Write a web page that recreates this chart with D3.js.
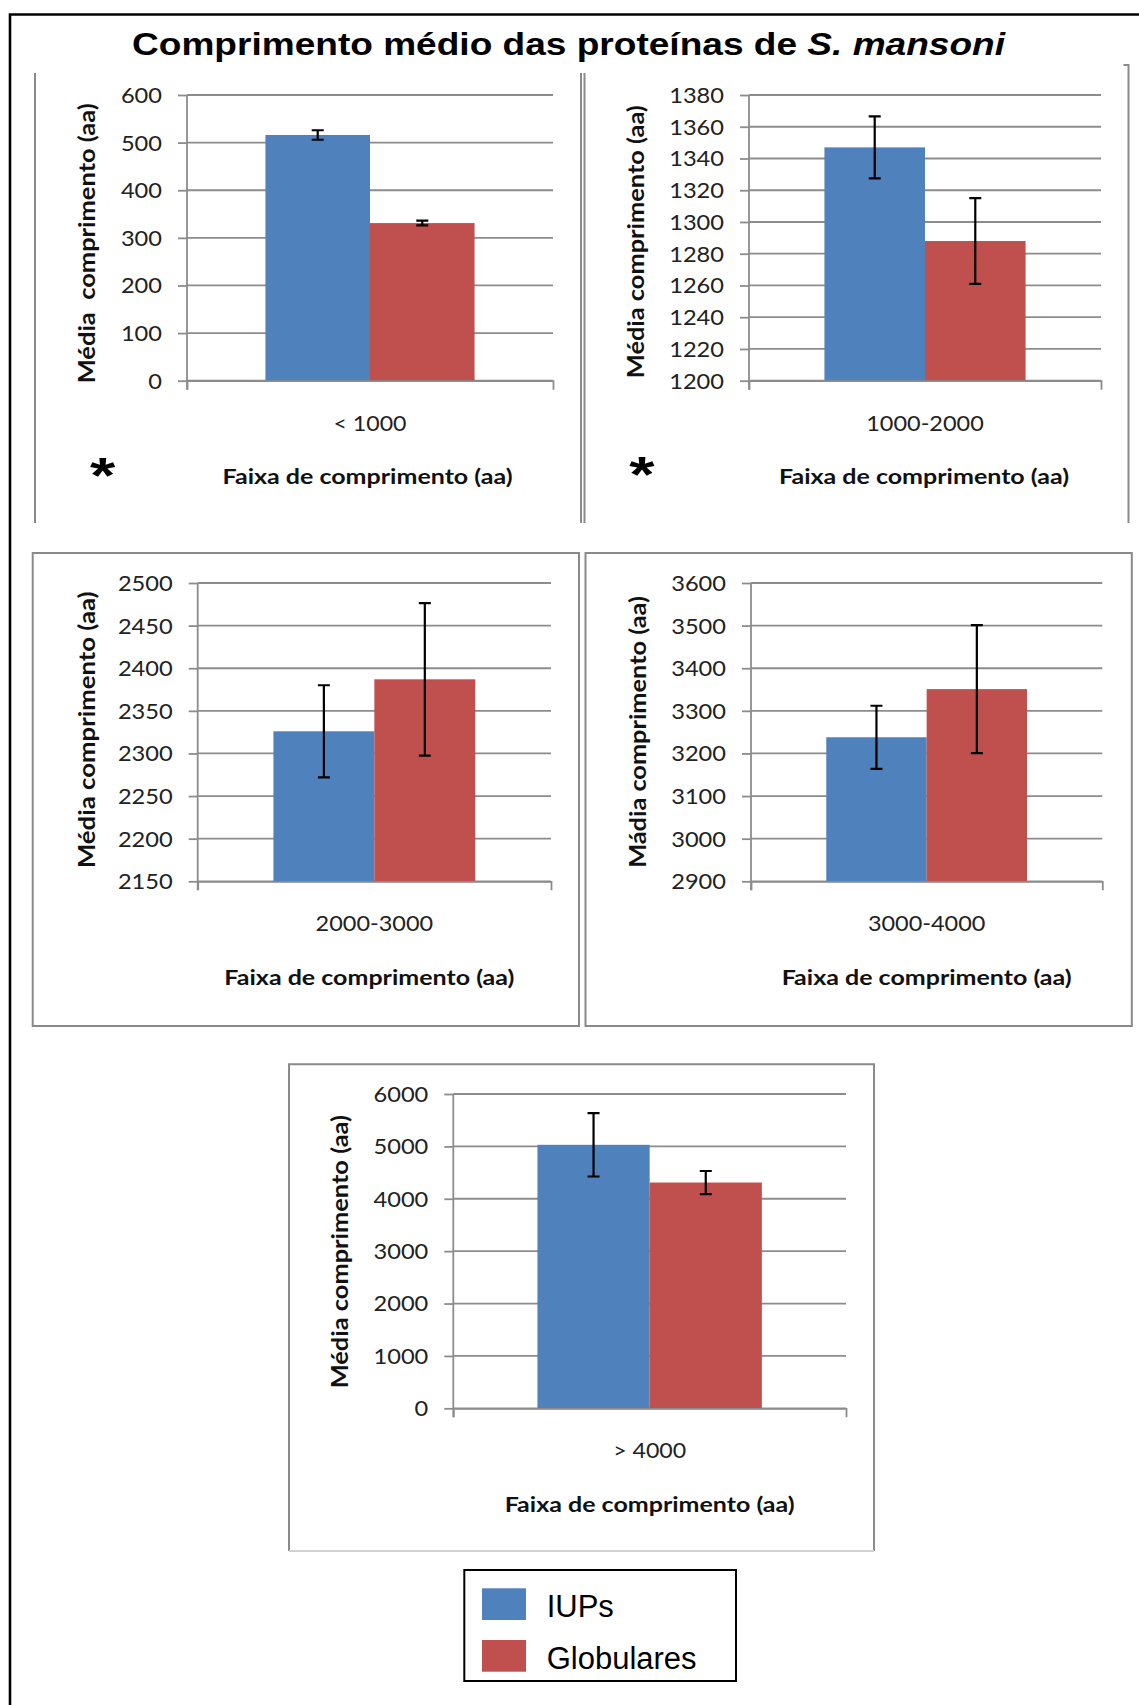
<!DOCTYPE html>
<html>
<head>
<meta charset="utf-8">
<script src="https://cdn.jsdelivr.net/npm/d3@7"></script>
<style>
  body { margin: 0; background: #fff; }
  svg { display: block; }
</style>
</head>
<body>
<svg id="fig" width="1139" height="1705"></svg>
<script>
// ---- data ----
const categories = ["< 1000", "1000-2000", "2000-3000", "3000-4000", "> 4000"];
const seriesNames = ["IUPs", "Globulares"];
const iupMeans = [516, 1347, 2326, 3238, 5030];
const iupErrors = [10, 19.5, 54, 74, 605];
const globularMeans = [331, 1288, 2387, 3351, 4310];
const globularErrors = [5, 27, 89.5, 150, 220];
const yDomains = [[0, 600], [1200, 1380], [2150, 2500], [2900, 3600], [0, 6000]];
const yTickSteps = [100, 20, 50, 100, 1000];
const yTitles = ["Média  comprimento (aa)", "Média comprimento (aa)", "Média comprimento (aa)",
                 "Mádia comprimento (aa)", "Média comprimento (aa)"];
const xTitle = "Faixa de comprimento (aa)";
const significant = [true, true, false, false, false];
const titleMain = "Comprimento médio das proteínas de ";
const titleSpecies = "S. mansoni";

// ---- style ----
const seriesColors = ["#4F81BD", "#C0504D"];
const gridColor = "#8c8c8c";
const frameColor = "#8a8a8a";
const chartFont = "Lato, 'Open Sans', sans-serif";
const docFont = "'Liberation Sans', Arial, sans-serif";

// plot areas of the five small charts
const panels = [
  { x0: 187,   x1: 553,    y0: 95,   y1: 380.7,  yTitleX: 87,   yTitleY: 243.3,  yTitleLen: 280,   xTitleDx: -2.5, star: [102.7, 465] },
  { x0: 749,   x1: 1101,   y0: 95,   y1: 380.7,  yTitleX: 636,  yTitleY: 241.7,  yTitleLen: 273,   xTitleDx: -1,   star: [642, 464] },
  { x0: 197.7, x1: 551,    y0: 583,  y1: 881.3,  yTitleX: 86.7, yTitleY: 729.7,  yTitleLen: 276.7, xTitleDx: -5 },
  { x0: 751,   x1: 1102.3, y0: 583,  y1: 881.3,  yTitleX: 638,  yTitleY: 732,    yTitleLen: 271.7, xTitleDx: 0 },
  { x0: 453.3, x1: 846,    y0: 1094, y1: 1408.3, yTitleX: 340,  yTitleY: 1251.7, yTitleLen: 273.3, xTitleDx: 0 }
];

const svg = d3.select("#fig");
svg.append("rect").attr("width", 1139).attr("height", 1705).attr("fill", "#fff");

// stretch a text horizontally so that it spans the given width
function fitX(sel, x, y, width) {
  const w = sel.node().getBBox().width;
  sel.attr("transform", `translate(${x},${y}) scale(${width / w},1)`);
}

// ---- page frame ----
svg.append("path").attr("d", "M10,1705V14.5H1139")
  .attr("fill", "none").attr("stroke", "#000").attr("stroke-width", 2.6);

// ---- title ----
const title = svg.append("text")
  .attr("font-family", docFont).attr("font-weight", "bold")
  .attr("font-size", 31).attr("fill", "#000");
title.append("tspan").text(titleMain);
title.append("tspan").attr("font-style", "italic").text(titleSpecies);
fitX(title, 132, 55, 875);

// ---- chart frames ----
const frames = svg.append("g").attr("fill", "none").attr("stroke", frameColor).attr("stroke-width", 2);
frames.append("path").attr("d", "M35,73V523");
frames.append("path").attr("d", "M581,73V523M584.5,73V523");
frames.append("path").attr("d", "M1123.5,65H1128.5V523");
frames.append("rect").attr("x", 32.7).attr("y", 553).attr("width", 546.3).attr("height", 473);
frames.append("rect").attr("x", 585.5).attr("y", 553).attr("width", 546.3).attr("height", 473);
frames.append("path").attr("d", "M289,1551V1064.3H874V1551");
frames.append("path").attr("d", "M289,1551H874").attr("stroke", "#d2d2d2");

// ---- charts ----
panels.forEach((p, i) => {
  const g = svg.append("g");
  const base = yDomains[i][0];
  const y = d3.scaleLinear().domain(yDomains[i]).range([p.y1, p.y0]);
  const x = d3.scaleBand().domain([categories[i]]).range([p.x0, p.x1])
    .paddingInner(0).paddingOuter(0.375);
  const xs = d3.scaleBand().domain(seriesNames).range([0, x.bandwidth()]);
  const ticks = d3.range(yDomains[i][0], yDomains[i][1] + yTickSteps[i] / 2, yTickSteps[i]);

  // horizontal gridlines
  g.append("g").selectAll("line").data(ticks).join("line")
    .attr("x1", p.x0).attr("x2", p.x1)
    .attr("y1", d => y(d)).attr("y2", d => y(d))
    .attr("stroke", gridColor).attr("stroke-width", 1.8);

  // bars
  const rows = seriesNames.map((s, k) => ({
    series: s,
    mean: [iupMeans, globularMeans][k][i],
    err: [iupErrors, globularErrors][k][i],
    color: seriesColors[k]
  }));
  g.append("g").selectAll("rect").data(rows).join("rect")
    .attr("x", d => x(categories[i]) + xs(d.series))
    .attr("width", xs.bandwidth())
    .attr("y", d => y(d.mean))
    .attr("height", d => y(base) - y(d.mean))
    .attr("fill", d => d.color);

  // y axis
  const yAxis = d3.axisLeft(y).tickValues(ticks).tickSize(9).tickPadding(16)
    .tickFormat(d3.format("d"));
  const ya = g.append("g").attr("transform", `translate(${p.x0},0)`).call(yAxis);
  ya.select(".domain").remove();
  ya.selectAll(".tick line").attr("stroke", gridColor).attr("stroke-width", 1.8);
  ya.selectAll(".tick text")
    .attr("font-family", chartFont).attr("font-size", 20.5).attr("fill", "#222")
    .attr("dy", "0.36em")
    .attr("textLength", d => String(d).length * 13.7)
    .attr("lengthAdjust", "spacingAndGlyphs");
  g.append("line")
    .attr("x1", p.x0).attr("x2", p.x0).attr("y1", p.y0).attr("y2", p.y1 + 9)
    .attr("stroke", gridColor).attr("stroke-width", 1.8);

  // x axis
  const xAxis = d3.axisBottom(x).tickSizeInner(0).tickSizeOuter(9);
  const xa = g.append("g").attr("transform", `translate(0,${p.y1})`).call(xAxis);
  xa.select(".domain").attr("stroke", gridColor).attr("stroke-width", 1.8);
  xa.selectAll(".tick line").remove();
  xa.selectAll(".tick text")
    .attr("font-family", chartFont).attr("font-size", 21.5).attr("fill", "#222")
    .attr("y", 50).attr("dy", null)
    .attr("textLength", d => d.length === 9 ? 117.5 : 73)
    .attr("lengthAdjust", "spacingAndGlyphs")
    .style("white-space", "pre");

  // error bars
  const eb = g.append("g").attr("stroke", "#000").attr("stroke-width", 2.2).attr("fill", "none");
  eb.selectAll("path").data(rows).join("path")
    .attr("d", d => {
      const cx = x(categories[i]) + xs(d.series) + xs.bandwidth() / 2;
      const top = y(d.mean + d.err), bot = y(d.mean - d.err);
      return `M${cx},${top}V${bot}M${cx - 6},${top}H${cx + 6}M${cx - 6},${bot}H${cx + 6}`;
    });

  // axis titles
  g.append("text")
    .attr("transform", `translate(${p.yTitleX},${p.yTitleY}) scale(1.15,1) rotate(-90)`)
    .attr("text-anchor", "middle").attr("dy", "0.35em")
    .attr("font-family", chartFont).attr("font-weight", "bold").attr("font-size", 20)
    .attr("fill", "#111")
    .style("white-space", "pre")
    .attr("textLength", p.yTitleLen).attr("lengthAdjust", "spacingAndGlyphs")
    .text(yTitles[i]);
  g.append("text")
    .attr("x", (p.x0 + p.x1) / 2 + p.xTitleDx).attr("y", p.y1 + 103.5)
    .attr("text-anchor", "middle")
    .attr("font-family", chartFont).attr("font-weight", "bold").attr("font-size", 21)
    .attr("fill", "#111")
    .attr("textLength", 290).attr("lengthAdjust", "spacingAndGlyphs")
    .text(xTitle);

  // significance mark
  if (significant[i]) {
    g.append("text")
      .attr("transform", `translate(${p.star[0]},${p.star[1] + 27.5}) scale(1.3,1)`)
      .attr("text-anchor", "middle")
      .attr("font-family", docFont).attr("font-weight", "bold").attr("font-size", 50)
      .attr("fill", "#000")
      .text("*");
  }
});

// ---- legend ----
const legend = svg.append("g");
legend.append("rect")
  .attr("x", 464.3).attr("y", 1570).attr("width", 271.7).attr("height", 111)
  .attr("fill", "#fff").attr("stroke", "#000").attr("stroke-width", 2);
const items = legend.selectAll("g.item").data(seriesNames).join("g")
  .attr("class", "item")
  .attr("transform", (d, k) => `translate(482,${1588.3 + k * 51.7})`);
items.append("rect").attr("width", 44).attr("height", 31.7)
  .attr("fill", (d, k) => seriesColors[k]);
items.append("text")
  .attr("x", 64.7).attr("y", 29)
  .attr("font-family", docFont).attr("font-size", 31).attr("fill", "#000")
  .text(d => d);
</script>
</body>
</html>
